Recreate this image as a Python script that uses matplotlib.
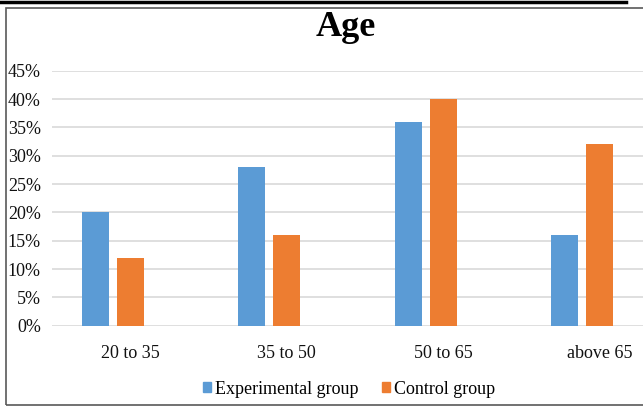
import matplotlib.pyplot as plt
import numpy as np
from matplotlib.patches import Patch, Rectangle
from matplotlib.lines import Line2D
from matplotlib.ticker import PercentFormatter

plt.rcParams['font.family'] = ['Liberation Serif', 'DejaVu Serif']

# data
age_groups = ['20 to 35', '35 to 50', '50 to 65', 'above 65']
experimental = [20, 28, 36, 16]
control = [12, 16, 40, 32]
y_ticks = [0, 5, 10, 15, 20, 25, 30, 35, 40, 45]

blue = '#5B9BD5'
orange = '#ED7D31'

W, H = 643, 408
fig = plt.figure(figsize=(W / 100, H / 100), dpi=100)

# axes run past the right edge, like the cropped original
ax = fig.add_axes([52 / W, 1 - 325.7 / H, (677.8 - 52) / W, (325.7 - 70.7) / H])

x = np.arange(len(age_groups))
bw = 0.173
ax.bar(x - 0.223, experimental, bw, color=blue, zorder=3)
ax.bar(x, control, bw, color=orange, zorder=3)

ax.set_xlim(-0.5, 3.5)
ax.set_ylim(0, 45)
ax.set_yticks(y_ticks)
ax.yaxis.set_major_formatter(PercentFormatter(decimals=0))
ax.set_xticks(x)
ax.set_xticklabels(age_groups)
ax.tick_params(axis='both', length=0, labelsize=13, colors='#111111')
ax.tick_params(axis='y', pad=8)
ax.tick_params(axis='x', pad=14)
ax.grid(axis='y', color='#d9d9d9', linewidth=1.2, zorder=0)
for s in ax.spines.values():
    s.set_visible(False)

fig.text(346 / W, 1 - 28 / H, 'Age', ha='center', va='center',
         fontsize=26, fontweight='bold')

handles = [Patch(color=blue, label='Experimental group'),
           Patch(color=orange, label='Control group')]
fig.legend(handles=handles, loc='center', bbox_to_anchor=(349 / W, 1 - 389 / H),
           ncol=2, frameon=False, fontsize=13, handlelength=0.45,
           handleheight=0.5, handletextpad=0.2, columnspacing=1.3)

# chart frame and the thick rule above it
fig.add_artist(Rectangle((6 / W, 1 - 405 / H), 1.2, (405 - 8) / H,
                         transform=fig.transFigure, fill=False,
                         edgecolor='#595959', linewidth=1.2))
fig.add_artist(Line2D([0, 626 / W], [1 - 1.5 / H, 1 - 1.5 / H],
                      transform=fig.transFigure, color='black', linewidth=2.5))

plt.savefig('out.png', dpi=100)
